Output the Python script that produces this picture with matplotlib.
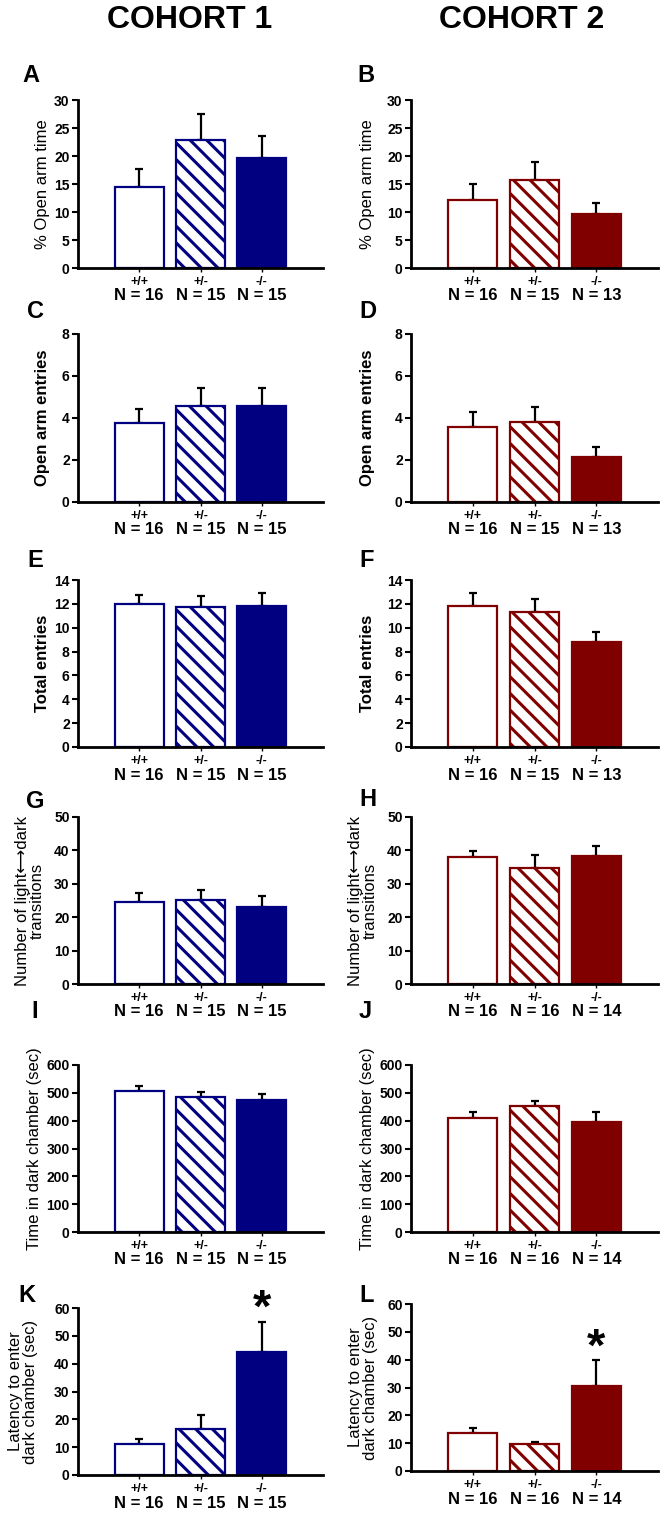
import matplotlib
matplotlib.use("Agg")
from matplotlib import pyplot as plt
from matplotlib import rcParams
import numpy as np

rcParams["font.family"] = ["Liberation Sans", "DejaVu Sans"]
rcParams["hatch.linewidth"] = 2.2

genotypes = ['+/+', '+/-', '-/-']
n_c1 = [16, 15, 15]
n_c2_epm = [16, 15, 13]
n_c2_ld = [16, 16, 14]

# cohort 1 (left column), cohort 2 (right column)
open_time_1 = [14.4, 22.8, 19.6]
open_time_1_err = [3.3, 4.7, 4.0]
open_time_2 = [12.1, 15.8, 9.6]
open_time_2_err = [2.9, 3.2, 2.0]

open_ent_1 = [3.75, 4.56, 4.56]
open_ent_1_err = [0.70, 0.85, 0.85]
open_ent_2 = [3.56, 3.80, 2.16]
open_ent_2_err = [0.73, 0.70, 0.46]

total_ent_1 = [12.0, 11.7, 11.8]
total_ent_1_err = [0.75, 1.0, 1.1]
total_ent_2 = [11.8, 11.3, 8.8]
total_ent_2_err = [1.15, 1.1, 0.8]

trans_1 = [24.5, 25.1, 23.1]
trans_1_err = [2.8, 3.0, 3.2]
trans_2 = [38.1, 34.8, 38.2]
trans_2_err = [1.8, 3.9, 3.2]

dark_time_1 = [505, 486, 476]
dark_time_1_err = [21, 18, 21]
dark_time_2 = [411, 454, 397]
dark_time_2_err = [19, 18, 33]

latency_1 = [11.1, 16.4, 44.1]
latency_1_err = [2.0, 5.0, 10.7]
latency_2 = [13.6, 9.6, 30.4]
latency_2_err = [2.0, 0.7, 9.6]

navy = '#000080'
maroon = '#800000'

W, H = 666, 1517
fig = plt.figure(figsize=(W / 100, H / 100), dpi=100)


def px_axes(left, top, right, bottom):
    return fig.add_axes([left / W, 1 - bottom / H, (right - left) / W, (bottom - top) / H])


def panel(ax, vals, errs, color, ns, ymax, ystep, ylabel, lab_bold, letter, letter_xy,
          label_x, star=None):
    x = np.arange(3)
    ax.bar(x[0], vals[0], 0.8, color='white', edgecolor=color, linewidth=1.6, zorder=2)
    ax.bar(x[1], vals[1], 0.8, color='white', edgecolor=color, linewidth=1.6, hatch='\\\\', zorder=2)
    ax.bar(x[2], vals[2], 0.8, color=color, edgecolor=color, linewidth=1.6, zorder=2)
    ax.errorbar(x, vals, yerr=[np.zeros(3), errs], fmt='none', ecolor='black',
                elinewidth=1.6, capsize=3, capthick=1.6, zorder=1)
    ax.set_xlim(-1.0, 3.0)
    ax.set_ylim(0, ymax)
    ax.set_yticks(np.arange(0, ymax + ystep / 2, ystep))
    for s in ['top', 'right']:
        ax.spines[s].set_visible(False)
    for s in ['left', 'bottom']:
        ax.spines[s].set_linewidth(2)
    ax.tick_params(axis='y', direction='out', length=4, width=1.5, labelsize=10, pad=2)
    ax.tick_params(axis='x', direction='out', length=3, width=1, labelsize=9, pad=3)
    for t in ax.get_yticklabels():
        t.set_fontweight('bold')
    ax.set_xticks(x)
    ax.set_xticklabels(genotypes, fontweight='bold')
    for i in range(3):
        ax.annotate('N = %d' % ns[i], xy=(x[i], 0), xycoords=('data', 'axes fraction'),
                    xytext=(0, -28), textcoords='offset pixels',
                    ha='center', va='center', fontsize=12, fontweight='bold')
    ax.set_ylabel(ylabel, fontsize=12, fontweight='bold' if lab_bold else 'normal',
                  linespacing=1.0)
    ax.yaxis.set_label_coords(label_x, 0.5)
    fig.text(letter_xy[0] / W, 1 - letter_xy[1] / H, letter, fontsize=17, fontweight='bold',
             ha='center', va='center')
    if star is not None:
        ax.text(2, star, '*', fontsize=34, fontweight='bold', ha='center', va='center',
                clip_on=False)


fig.text(190 / W, 1 - 20 / H, 'COHORT 1', fontsize=23, fontweight='bold', ha='center',
         va='center')
fig.text(522 / W, 1 - 20 / H, 'COHORT 2', fontsize=23, fontweight='bold', ha='center',
         va='center')

L0, L1 = 78, 323
R0, R1 = 411, 658

trans_label = 'Number of light\u27f7dark\ntransitions'

ax = px_axes(L0, 100, L1, 268)
panel(ax, open_time_1, open_time_1_err, navy, n_c1, 30, 5, '% Open arm time', False,
      'A', (31, 75), -0.114)
ax = px_axes(R0, 100, R1, 268)
panel(ax, open_time_2, open_time_2_err, maroon, n_c2_epm, 30, 5, '% Open arm time', False,
      'B', (366, 75), -0.146)

ax = px_axes(L0, 334, L1, 502)
panel(ax, open_ent_1, open_ent_1_err, navy, n_c1, 8, 2, 'Open arm entries', True,
      'C', (35, 311), -0.114)
ax = px_axes(R0, 334, R1, 502)
panel(ax, open_ent_2, open_ent_2_err, maroon, n_c2_epm, 8, 2, 'Open arm entries', True,
      'D', (368, 311), -0.146)

ax = px_axes(L0, 580, L1, 747)
panel(ax, total_ent_1, total_ent_1_err, navy, n_c1, 14, 2, 'Total entries', True,
      'E', (35, 560), -0.114)
ax = px_axes(R0, 580, R1, 747)
panel(ax, total_ent_2, total_ent_2_err, maroon, n_c2_epm, 14, 2, 'Total entries', True,
      'F', (367, 560), -0.146)

ax = px_axes(L0, 817, L1, 984)
panel(ax, trans_1, trans_1_err, navy, n_c1, 50, 10, trans_label, False,
      'G', (35, 802), -0.135)
ax = px_axes(R0, 817, R1, 984)
panel(ax, trans_2, trans_2_err, maroon, n_c2_ld, 50, 10, trans_label, False,
      'H', (368, 800), -0.134)

ax = px_axes(L0, 1065, L1, 1232)
panel(ax, dark_time_1, dark_time_1_err, navy, n_c1, 600, 100, 'Time in dark chamber (sec)', False,
      'I', (35, 1012), -0.147)
ax = px_axes(R0, 1065, R1, 1232)
panel(ax, dark_time_2, dark_time_2_err, maroon, n_c2_ld, 600, 100, 'Time in dark chamber (sec)', False,
      'J', (365, 1012), -0.146)

ax = px_axes(L0, 1308, L1, 1475)
panel(ax, latency_1, latency_1_err, navy, n_c1, 60, 10, 'Latency to enter\ndark chamber (sec)', False,
      'K', (27, 1296), -0.163, star=59.5)
ax = px_axes(R0, 1304, R1, 1471)
panel(ax, latency_2, latency_2_err, maroon, n_c2_ld, 60, 10, 'Latency to enter\ndark chamber (sec)', False,
      'L', (367, 1296), -0.134, star=44)

fig.savefig('out.png', dpi=100)
